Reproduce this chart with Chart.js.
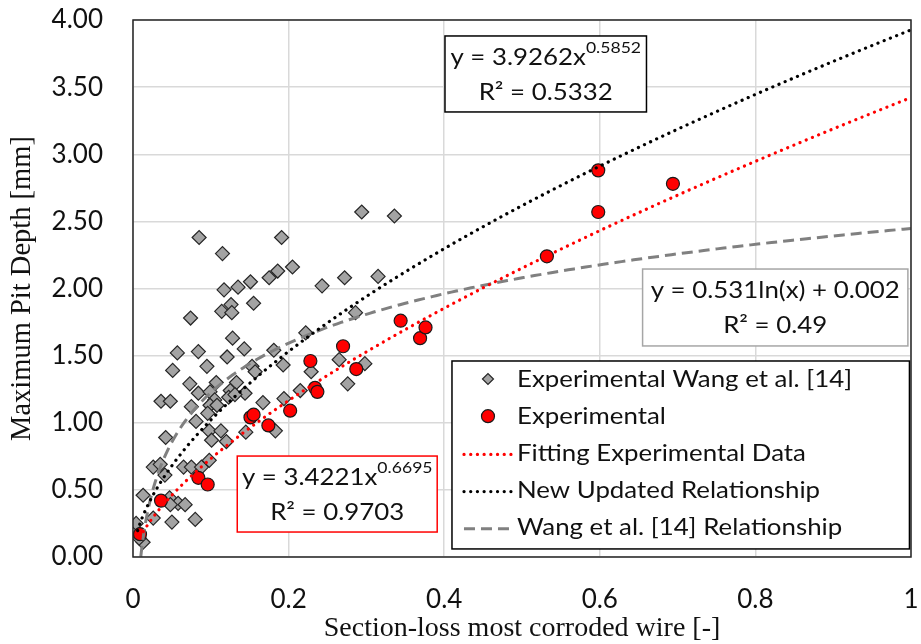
<!DOCTYPE html>
<html>
<head>
<meta charset="utf-8">
<script src="https://cdn.jsdelivr.net/npm/chart.js@4.4.0/dist/chart.umd.min.js"></script>
<style>
    html, body { margin: 0; padding: 0; background: #fff; }
</style>
</head>
<body>
<canvas id="pitChart" width="921" height="644"></canvas>
<script>
// Wang et al. [14] experimental points (section loss, max pit depth)
const wangX = [0.085, 0.191, 0.115, 0.205, 0.186, 0.175, 0.151, 0.135, 0.117, 0.243,
               0.155, 0.126, 0.114, 0.127, 0.074, 0.222, 0.128, 0.143, 0.181, 0.057,
               0.084, 0.121, 0.051, 0.095, 0.153, 0.193, 0.157, 0.073, 0.107, 0.133,
               0.084, 0.099, 0.125, 0.144, 0.036, 0.048, 0.105, 0.123, 0.131, 0.075,
               0.099, 0.108, 0.081, 0.096, 0.098, 0.113, 0.167, 0.101, 0.120, 0.183,
               0.145, 0.042, 0.194, 0.026, 0.035, 0.041, 0.065, 0.075, 0.088, 0.098,
               0.013, 0.047, 0.058, 0.067, 0.048, 0.026, 0.050, 0.080, 0.004, 0.013,
               0.008, 0.294, 0.336, 0.272, 0.315, 0.286, 0.265, 0.229, 0.298, 0.276,
               0.215];
const wangY = [2.38, 2.38, 2.26, 2.16, 2.13, 2.08, 2.05, 2.01, 1.99, 2.02,
               1.89, 1.88, 1.83, 1.82, 1.78, 1.67, 1.63, 1.55, 1.54, 1.52,
               1.53, 1.49, 1.39, 1.42, 1.42, 1.43, 1.38, 1.29, 1.30, 1.30,
               1.22, 1.23, 1.24, 1.22, 1.16, 1.16, 1.17, 1.19, 1.21, 1.12,
               1.13, 1.13, 1.01, 1.07, 0.94, 0.94, 1.15, 0.87, 0.86, 0.94,
               0.93, 0.89, 1.18, 0.67, 0.69, 0.61, 0.67, 0.67, 0.67, 0.72,
               0.46, 0.44, 0.40, 0.39, 0.39, 0.29, 0.26, 0.28, 0.25, 0.11,
               0.14, 2.57, 2.54, 2.08, 2.09, 1.82, 1.47, 1.38, 1.44, 1.29,
               1.24];

// Experimental points of this study
const expX = [0.009, 0.036, 0.084, 0.096, 0.151, 0.155, 0.174, 0.202, 0.228, 0.234,
              0.237, 0.270, 0.287, 0.344, 0.369, 0.376, 0.532, 0.598, 0.598, 0.694];
const expY = [0.17, 0.42, 0.59, 0.54, 1.04, 1.06, 0.98, 1.09, 1.46, 1.26,
              1.23, 1.57, 1.40, 1.76, 1.63, 1.71, 2.24, 2.57, 2.88, 2.78];

// trend relationships as printed on the chart
const fitCoef = [3.4221, 0.6695];     // y = a x^b, fitting experimental data
const newCoef = [3.9262, 0.5852];     // y = a x^b, new updated relationship
const wangCoef = [0.531, 0.002];      // y = a ln(x[%]) + b, Wang et al. [14]
const fitR2 = '0.9703';
const newR2 = '0.5332';
const wangR2 = '0.49';

const xTickLabels = ['0', '0.2', '0.4', '0.6', '0.8', '1'];
const yTickLabels = ['0.00', '0.50', '1.00', '1.50', '2.00', '2.50', '3.00', '3.50', '4.00'];

const legendLabels = ['Experimental Wang et al. [14]', 'Experimental', 'Fitting Experimental Data',
                      'New Updated Relationship', 'Wang et al. [14] Relationship'];

function curve(fn, start) {
    const pts = [];
    for (let i = 0; i <= 200; i++) {
        const x = start + (1 - start) * Math.pow(i / 200, 2);
        pts.push({ x: x, y: fn(x) });
    }
    return pts;
}

const wangPoints = wangX.map((x, i) => ({ x: x, y: wangY[i] }));
const expPoints = expX.map((x, i) => ({ x: x, y: expY[i] }));
const fitLine = curve(x => fitCoef[0] * Math.pow(x, fitCoef[1]), 0.009);
const newLine = curve(x => newCoef[0] * Math.pow(x, newCoef[1]), 0.006);
const wangLine = curve(x => wangCoef[0] * Math.log(x * 100) + wangCoef[1], 0.01);

const TXT = '#111';
const STRETCH = 1.1;

function stretchText(ctx, text, x, y, align) {
    const w = ctx.measureText(text).width * STRETCH;
    let x0 = x;
    if (align === 'center') x0 = x - w / 2;
    ctx.save();
    ctx.translate(x0, y);
    ctx.scale(STRETCH, 1);
    ctx.textAlign = 'left';
    ctx.fillText(text, 0, 0);
    ctx.restore();
    return w;
}

function drawEqBox(ctx, sx, sy, box) {
    const l = sx.getPixelForValue(box.x0), r = sx.getPixelForValue(box.x1);
    const t = sy.getPixelForValue(box.y0), b = sy.getPixelForValue(box.y1);
    ctx.fillStyle = '#fff';
    ctx.fillRect(l, t, r - l, b - t);
    ctx.strokeStyle = box.border;
    ctx.lineWidth = 1.5;
    ctx.strokeRect(l, t, r - l, b - t);
    const cx = (l + r) / 2, cy = (t + b) / 2;
    ctx.fillStyle = TXT;
    ctx.textBaseline = 'middle';
    ctx.font = '23.5px Lato';
    const mainW = ctx.measureText(box.main).width * STRETCH;
    let supW = 0;
    if (box.sup) {
        ctx.font = '16px Lato';
        supW = ctx.measureText(box.sup).width * STRETCH;
    }
    const start = cx - (mainW + supW) / 2;
    ctx.font = '23.5px Lato';
    stretchText(ctx, box.main, start, cy - 17, 'left');
    if (box.sup) {
        ctx.font = '16px Lato';
        stretchText(ctx, box.sup, start + mainW, cy - 26, 'left');
    }
    ctx.font = '23.5px Lato';
    stretchText(ctx, 'R\u00B2 = ' + box.r2, cx, cy + 18, 'center');
}

const boxesPlugin = {
    id: 'boxes',
    afterDraw(chart) {
        const ctx = chart.ctx;
        const a = chart.chartArea;
        const sx = chart.scales.x, sy = chart.scales.y;
        ctx.save();
        // plot frame
        ctx.strokeStyle = '#262626';
        ctx.lineWidth = 1.5;
        ctx.strokeRect(a.left, a.top, a.right - a.left, a.bottom - a.top);

        drawEqBox(ctx, sx, sy, { x0: 0.401, x1: 0.660, y0: 3.881, y1: 3.315, border: '#000',
            main: 'y = ' + newCoef[0] + 'x', sup: String(newCoef[1]), r2: newR2 });
        drawEqBox(ctx, sx, sy, { x0: 0.655, x1: 0.996, y0: 2.145, y1: 1.572, border: '#a6a6a6',
            main: 'y = ' + wangCoef[0] + 'ln(x) + ' + wangCoef[1], sup: '', r2: wangR2 });
        drawEqBox(ctx, sx, sy, { x0: 0.134, x1: 0.391, y0: 0.752, y1: 0.186, border: '#ff0000',
            main: 'y = ' + fitCoef[0] + 'x', sup: String(fitCoef[1]), r2: fitR2 });

        // legend
        const l = sx.getPixelForValue(0.410), r = sx.getPixelForValue(0.998);
        const t = sy.getPixelForValue(1.460), b = sy.getPixelForValue(0.060);
        ctx.fillStyle = '#fff';
        ctx.fillRect(l, t, r - l, b - t);
        ctx.strokeStyle = '#000';
        ctx.lineWidth = 1.5;
        ctx.strokeRect(l, t, r - l, b - t);
        const ds = chart.data.datasets;
        const symX = l + 36, textX = l + 65;
        ctx.font = '23.5px Lato';
        ctx.textBaseline = 'middle';
        legendLabels.forEach((label, i) => {
            const y = t + 18 + i * 37.2;
            const d = ds[i];
            if (i < 2) {
                ctx.fillStyle = d.backgroundColor;
                ctx.strokeStyle = d.borderColor;
                ctx.lineWidth = 1.2;
                ctx.beginPath();
                if (d.pointStyle === 'rectRot') {
                    const s = 5.5;
                    ctx.moveTo(symX - s, y); ctx.lineTo(symX, y - s);
                    ctx.lineTo(symX + s, y); ctx.lineTo(symX, y + s);
                    ctx.closePath();
                } else {
                    ctx.arc(symX, y, 6.5, 0, Math.PI * 2);
                }
                ctx.fill();
                ctx.stroke();
            } else {
                ctx.strokeStyle = d.borderColor;
                ctx.lineWidth = d.borderWidth;
                ctx.lineCap = d.borderCapStyle || 'butt';
                ctx.setLineDash(d.borderDash);
                ctx.beginPath();
                ctx.moveTo(symX - 24, y + 1);
                ctx.lineTo(symX + 23, y + 1);
                ctx.stroke();
                ctx.setLineDash([]);
                ctx.lineCap = 'butt';
            }
            ctx.fillStyle = TXT;
            stretchText(ctx, label, textX, y, 'left');
        });
        ctx.restore();
    }
};

const ctx = document.getElementById('pitChart').getContext('2d');
new Chart(ctx, {
    type: 'scatter',
    data: {
        datasets: [
            {
                label: legendLabels[0],
                data: wangPoints,
                pointStyle: 'rectRot',
                pointRadius: 7,
                backgroundColor: '#a3a3a3',
                borderColor: '#262626',
                borderWidth: 1.2,
                order: 5
            },
            {
                label: legendLabels[1],
                data: expPoints,
                pointStyle: 'circle',
                pointRadius: 6.5,
                backgroundColor: '#ff0000',
                borderColor: '#1a1a1a',
                borderWidth: 1.2,
                order: 4
            },
            {
                label: legendLabels[2],
                data: fitLine,
                showLine: true,
                pointRadius: 0,
                borderColor: '#ff0000',
                borderWidth: 3.2,
                borderDash: [0.1, 6.6],
                borderCapStyle: 'round',
                order: 1
            },
            {
                label: legendLabels[3],
                data: newLine,
                showLine: true,
                pointRadius: 0,
                borderColor: '#000000',
                borderWidth: 3.2,
                borderDash: [0.1, 6.6],
                borderCapStyle: 'round',
                order: 2
            },
            {
                label: legendLabels[4],
                data: wangLine,
                showLine: true,
                pointRadius: 0,
                borderColor: '#808080',
                borderWidth: 3,
                borderDash: [11, 6],
                order: 3
            }
        ]
    },
    options: {
        responsive: false,
        animation: false,
        devicePixelRatio: 1,
        layout: { padding: { left: 0, top: 20, right: 10, bottom: 0 } },
        plugins: {
            legend: { display: false },
            tooltip: { enabled: false }
        },
        scales: {
            x: {
                type: 'linear',
                min: 0,
                max: 1,
                afterFit: scale => {
                    scale.height = 87;
                    scale.paddingLeft = 0;
                    scale.paddingRight = 0;
                },
                ticks: {
                    stepSize: 0.2,
                    padding: 27,
                    color: TXT,
                    font: { family: 'Lato', size: 26 },
                    callback: (v, i) => xTickLabels[i]
                },
                grid: { color: '#d9d9d9', lineWidth: 1.5, drawTicks: false },
                border: { display: false },
                title: {
                    display: true,
                    text: 'Section-loss most corroded wire [-]',
                    color: TXT,
                    font: { family: 'Liberation Serif', size: 28, lineHeight: 1 },
                    padding: { top: 0, bottom: 1 }
                }
            },
            y: {
                type: 'linear',
                min: 0,
                max: 4,
                afterFit: scale => {
                    scale.width = 133;
                    scale.paddingTop = 0;
                    scale.paddingBottom = 0;
                },
                ticks: {
                    stepSize: 0.5,
                    padding: 30,
                    color: TXT,
                    font: { family: 'Lato', size: 26 },
                    callback: (v, i) => yTickLabels[i]
                },
                grid: { color: '#d9d9d9', lineWidth: 1.5, drawTicks: false },
                border: { display: false },
                title: {
                    display: true,
                    text: 'Maximum Pit Depth [mm]',
                    color: TXT,
                    font: { family: 'Liberation Serif', size: 28.5, lineHeight: 1 },
                    padding: { top: 8, bottom: 0 }
                }
            }
        }
    },
    plugins: [boxesPlugin]
});
</script>
</body>
</html>
